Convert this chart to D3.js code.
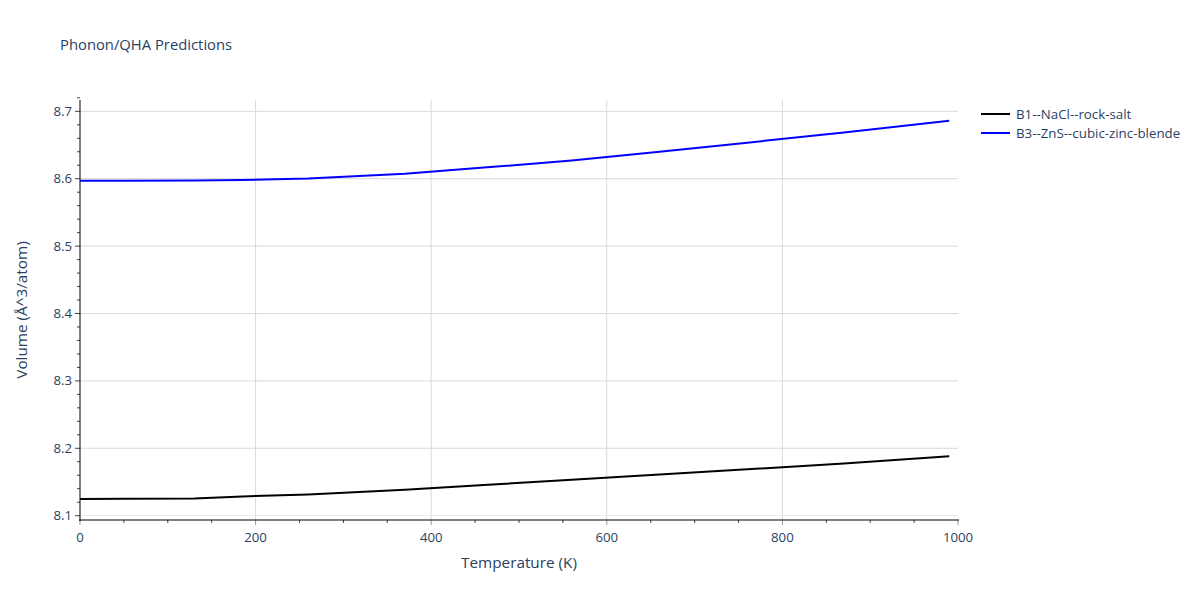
<!DOCTYPE html>
<html>
<head>
<meta charset="utf-8">
<script src="https://cdn.jsdelivr.net/npm/d3@7"></script>
<style>
body{margin:0;background:#fff;}
text{font-family:"Open Sans",sans-serif;}
</style>
</head>
<body>
<svg id="chart" width="1200" height="600"></svg>
<script>
const temps = [0, 50, 130, 185, 260, 370, 460, 560, 660, 760, 870, 990];
const seriesNames = ["B1--NaCl--rock-salt", "B3--ZnS--cubic-zinc-blende"];
const seriesColors = ["#000000", "#0000ff"];
const nacl = [8.1248, 8.1250, 8.1256, 8.1285, 8.1315, 8.1385, 8.1455, 8.1534, 8.1610, 8.1688, 8.1775, 8.1881];
const zns  = [8.5970, 8.5971, 8.5975, 8.5980, 8.6005, 8.6075, 8.6165, 8.6270, 8.6400, 8.6535, 8.6685, 8.6861];
const xTicks = [0, 200, 400, 600, 800, 1000];
const yTicks = [8.1, 8.2, 8.3, 8.4, 8.5, 8.6, 8.7];

const svg = d3.select("#chart");
const L = 80, R = 958, T = 100, B = 520;
const x = d3.scaleLinear().domain([0, 1000]).range([L, R]);
const y = d3.scaleLinear().domain([8.0936, 8.7168]).range([B, T]);
const txt = "#2a3f5f";

// gridlines
svg.append("g").selectAll("line").data(xTicks.slice(1, -1)).join("line")
  .attr("x1", d => x(d)).attr("x2", d => x(d)).attr("y1", T).attr("y2", B)
  .attr("stroke", "#d9d9d9").attr("stroke-width", 1);
svg.append("g").selectAll("line").data(yTicks).join("line")
  .attr("x1", L).attr("x2", R).attr("y1", d => y(d)).attr("y2", d => y(d))
  .attr("stroke", d => d === 8.1 ? "#ebebeb" : "#d9d9d9").attr("stroke-width", 1);

// lines
const line = d3.line().x((d, i) => x(temps[i])).y(d => y(d));
[nacl, zns].forEach((s, k) => {
  svg.append("path").datum(s).attr("d", line).attr("fill", "none")
    .attr("stroke", seriesColors[k]).attr("stroke-width", 2);
});

// x axis
const xMinor = d3.range(50, 1000, 50).filter(v => v % 200 !== 0);
const gx = svg.append("g");
gx.selectAll("line.minor").data(xMinor).join("line")
  .attr("x1", d => x(d)).attr("x2", d => x(d)).attr("y1", B).attr("y2", B + 3)
  .attr("stroke", "#444");
gx.selectAll("line.major").data(xTicks).join("line")
  .attr("x1", d => x(d)).attr("x2", d => x(d)).attr("y1", B).attr("y2", B + 5)
  .attr("stroke", "#999");
gx.append("line").attr("x1", L - 1).attr("x2", R + 1).attr("y1", B).attr("y2", B)
  .attr("stroke", "#000").attr("stroke-width", 1);
gx.selectAll("text").data(xTicks).join("text")
  .attr("x", d => x(d)).attr("y", B + 22).attr("text-anchor", "middle")
  .attr("font-size", 13.2).attr("fill", txt).text(d => d);

// y axis
const yMinor = d3.range(8.1, 8.72, 0.02).filter(v => Math.abs(Math.round(v * 10) - v * 10) > 0.01);
const gy = svg.append("g");
gy.selectAll("line.minor").data(yMinor).join("line")
  .attr("x1", L - 3).attr("x2", L).attr("y1", d => y(d)).attr("y2", d => y(d))
  .attr("stroke", "#444");
gy.selectAll("line.major").data(yTicks).join("line")
  .attr("x1", L - 5).attr("x2", L).attr("y1", d => y(d)).attr("y2", d => y(d))
  .attr("stroke", "#444");
gy.append("line").attr("x1", L).attr("x2", L).attr("y1", T).attr("y2", B + 1)
  .attr("stroke", "#000").attr("stroke-width", 1);
gy.selectAll("text").data(yTicks).join("text")
  .attr("x", L - 8).attr("y", d => y(d) + 4.5).attr("text-anchor", "end")
  .attr("font-size", 13.2).attr("fill", txt).text(d => d.toFixed(1));

// titles
svg.append("text").attr("x", 60).attr("y", 50).attr("font-size", 14.8)
  .attr("fill", txt).text("Phonon/QHA Predictions");
svg.append("text").attr("x", (L + R) / 2).attr("y", 568).attr("text-anchor", "middle")
  .attr("font-size", 15.3).attr("fill", txt).text("Temperature (K)");
svg.append("text").attr("transform", `translate(27,${(T + B) / 2}) rotate(-90)`)
  .attr("text-anchor", "middle").attr("font-size", 15.3).attr("fill", txt)
  .text("Volume (Å^3/atom)");

// legend
const lg = svg.append("g");
seriesNames.forEach((n, k) => {
  const yy = 114 + k * 19;
  lg.append("line").attr("x1", 981).attr("x2", 1010).attr("y1", yy).attr("y2", yy)
    .attr("stroke", seriesColors[k]).attr("stroke-width", 2);
  lg.append("text").attr("x", 1016).attr("y", yy + 4.5).attr("font-size", 13.3)
    .attr("fill", txt).text(n);
});
</script>
</body>
</html>
